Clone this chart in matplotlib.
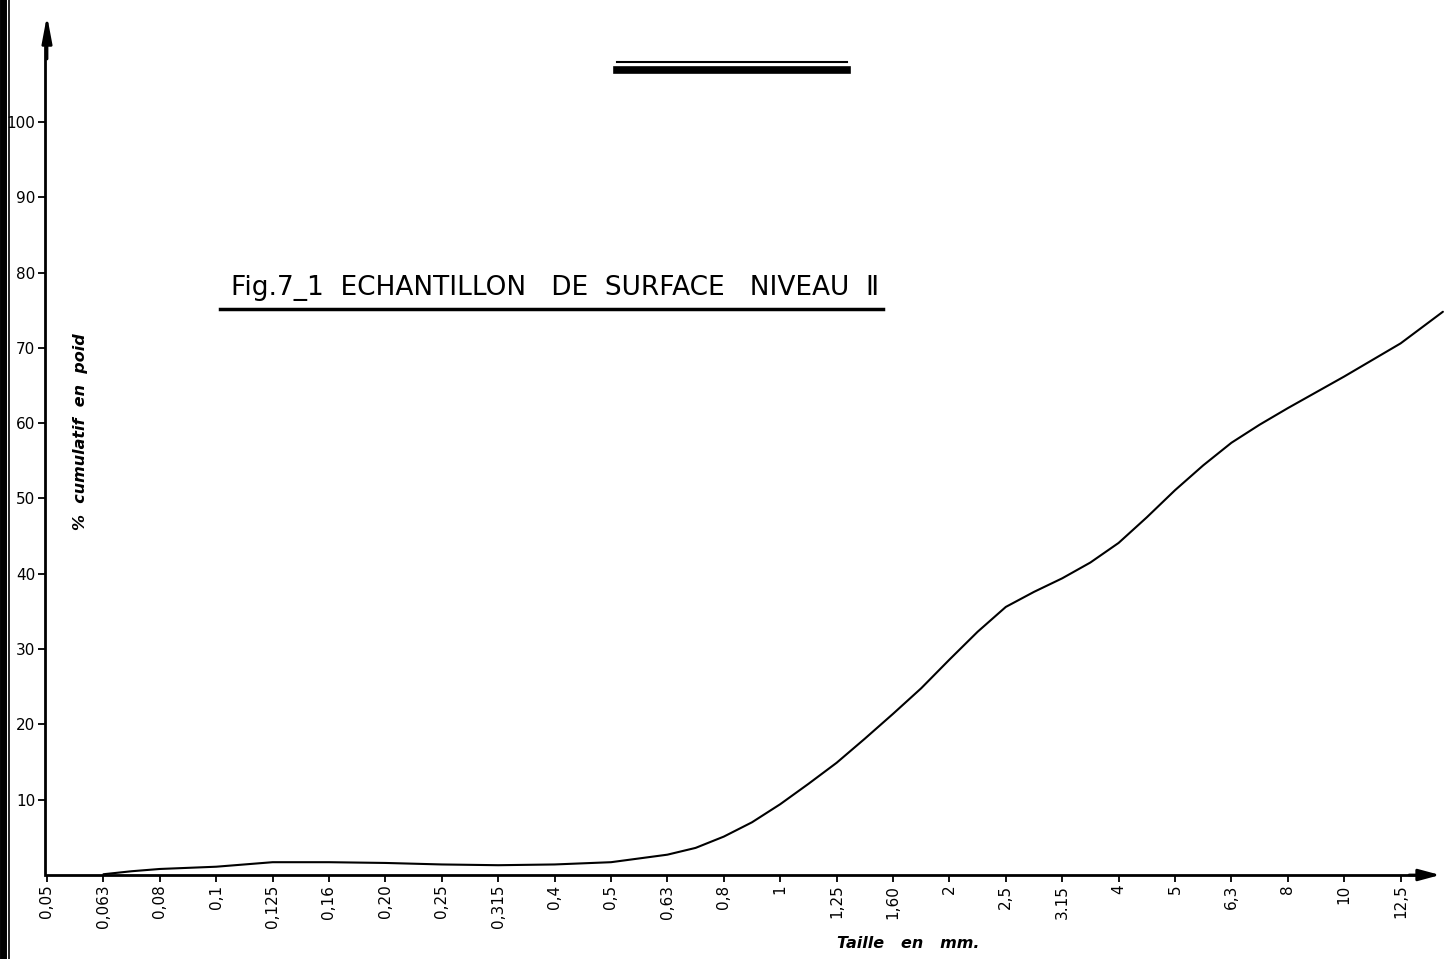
import numpy as np
import matplotlib
matplotlib.use('Agg')
import matplotlib.pyplot as plt
from matplotlib.lines import Line2D

# sieve sizes (mm) shown on the x axis, evenly spaced
sizes = ['0,05', '0,063', '0,08', '0,1', '0,125', '0,16', '0,20', '0,25', '0,315',
         '0,4', '0,5', '0,63', '0,8', '1', '1,25', '1,60', '2', '2,5', '3.15',
         '4', '5', '6,3', '8', '10', '12,5']

# cumulative % by weight (position in sieve index units)
curve_pos = [1, 1.5, 2, 3, 4, 5, 6, 7, 8, 9, 10, 11, 11.5, 12, 12.5, 13, 13.5, 14,
             14.5, 15, 15.5, 16, 16.5, 17, 17.5, 18, 18.5, 19, 19.5, 20, 20.5, 21,
             21.5, 22, 22.5, 23, 23.5, 24, 24.75]
curve_val = [0.1, 0.5, 0.8, 1.1, 1.7, 1.7, 1.6, 1.4, 1.3, 1.4, 1.7, 2.7, 3.6, 5.1,
             7.0, 9.4, 12.1, 14.9, 18.1, 21.4, 24.8, 28.6, 32.3, 35.6, 37.6, 39.4,
             41.5, 44.1, 47.5, 51.1, 54.4, 57.4, 59.8, 62.0, 64.1, 66.2, 68.4, 70.6, 74.8]

y_ticks = [10, 20, 30, 40, 50, 60, 70, 80, 90, 100]

W, H = 1445, 959
fig = plt.figure(figsize=(W / 100, H / 100), dpi=100)
fig.patch.set_facecolor('white')

px_per_idx = 56.4
px_per_pct = 7.53
ax = fig.add_axes([45 / W, (H - 875) / H, (W - 45) / W, (875 - 3) / H])
ax.set_xlim(-2 / px_per_idx, (W - 47) / px_per_idx)
ax.set_ylim(0, 872 / px_per_pct)
ax.patch.set_alpha(0)

ax.plot(curve_pos, curve_val, color='black', lw=1.5, solid_capstyle='round',
        solid_joinstyle='round')

for side in ['top', 'right']:
    ax.spines[side].set_visible(False)
for side in ['left', 'bottom']:
    ax.spines[side].set_linewidth(2)
ax.spines['bottom'].set_bounds(0, 24.4)
ax.spines['left'].set_bounds(0, 110)

ax.set_xticks(range(len(sizes)))
ax.set_xticklabels(sizes, rotation=90, fontsize=11)
ax.set_yticks(y_ticks)
ax.set_yticklabels([str(v) for v in y_ticks], fontsize=11)
ax.tick_params(axis='both', direction='out', length=5, width=1.3, pad=2)

# axis arrows
ax.annotate('', xy=(24.75, 0), xytext=(24.1, 0), xycoords='data',
            arrowprops=dict(arrowstyle='-|>,head_length=1.3,head_width=0.35',
                            color='black', lw=2), annotation_clip=False)
ax.annotate('', xy=(0, 114.5), xytext=(0, 108), xycoords='data',
            arrowprops=dict(arrowstyle='-|>,head_length=1.6,head_width=0.3',
                            color='black', lw=2), annotation_clip=False)

fig.text(80 / W, 1 - 432 / H, '%  cumulatif  en  poid', rotation=90, ha='center',
         va='center', fontsize=11.5, style='italic', fontweight='bold')
fig.text(908 / W, 1 - 943 / H, 'Taille   en   mm.', ha='center', va='center',
         fontsize=11.5, style='italic', fontweight='bold')

fig.text(555 / W, 1 - 288 / H, 'Fig.7_1  ECHANTILLON   DE  SURFACE   NIVEAU  Ⅱ',
         ha='center', va='center', fontsize=19)
fig.add_artist(Line2D([220 / W, 883 / W], [1 - 309 / H, 1 - 309 / H], color='black', lw=2.5))

# double bar at the top
fig.add_artist(Line2D([617 / W, 847 / W], [1 - 61.5 / H, 1 - 61.5 / H], color='black', lw=1.5))
fig.add_artist(Line2D([617 / W, 847 / W], [1 - 69.5 / H, 1 - 69.5 / H], color='black', lw=5.5))

# scan edge on the left
fig.add_artist(Line2D([3 / W, 3 / W], [0, 1], color='black', lw=5))
fig.add_artist(Line2D([9 / W, 9 / W], [0, 1], color='black', lw=1.2))

fig.savefig('out.png', dpi=100)
